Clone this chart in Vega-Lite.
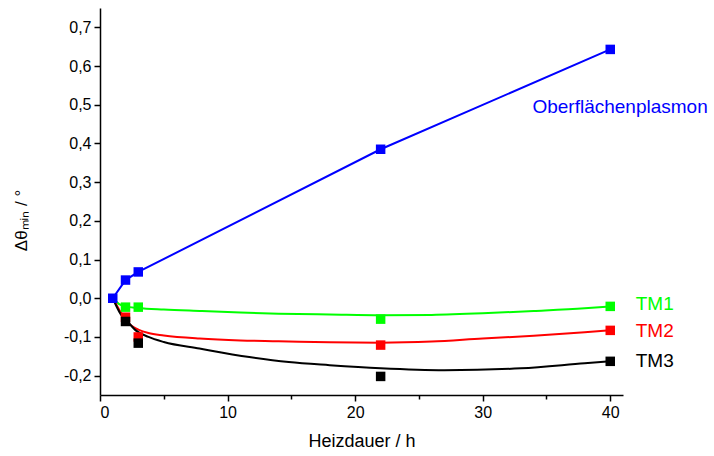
{
  "$schema": "https://vega.github.io/schema/vega-lite/v6.json",
  "autosize": {"type": "none"},
  "padding": {"left": 100, "top": 8, "right": 91, "bottom": 61},
  "width": 523,
  "height": 387,
  "background": "white",
  "config": {
    "view": {"stroke": null},
    "font": "Liberation Sans",
    "axis": {"grid": false, "domainColor": "black", "tickColor": "black", "labelColor": "black", "titleColor": "black", "labelFont": "Liberation Sans", "titleFont": "Liberation Sans", "domainWidth": 1.5, "tickWidth": 1.5}
  },
  "datasets": {
    "plasmon": [
      {"series": "Oberflächenplasmon", "h": 1, "d": 0},
      {"series": "Oberflächenplasmon", "h": 2, "d": 0.047},
      {"series": "Oberflächenplasmon", "h": 3, "d": 0.068},
      {"series": "Oberflächenplasmon", "h": 22, "d": 0.385},
      {"series": "Oberflächenplasmon", "h": 40, "d": 0.643}
    ],
    "curves": [
      {"series": "TM1", "h": 1, "d": 0},
      {"series": "TM1", "h": 1.5, "d": -0.015},
      {"series": "TM1", "h": 2, "d": -0.021},
      {"series": "TM1", "h": 3, "d": -0.025},
      {"series": "TM1", "h": 5, "d": -0.029},
      {"series": "TM1", "h": 8, "d": -0.033},
      {"series": "TM1", "h": 11, "d": -0.037},
      {"series": "TM1", "h": 14, "d": -0.040},
      {"series": "TM1", "h": 18, "d": -0.042},
      {"series": "TM1", "h": 22, "d": -0.044},
      {"series": "TM1", "h": 26, "d": -0.043},
      {"series": "TM1", "h": 30, "d": -0.039},
      {"series": "TM1", "h": 34, "d": -0.033},
      {"series": "TM1", "h": 38, "d": -0.026},
      {"series": "TM1", "h": 40, "d": -0.021},
      {"series": "TM2", "h": 1, "d": 0},
      {"series": "TM2", "h": 1.25, "d": -0.014},
      {"series": "TM2", "h": 1.6, "d": -0.035},
      {"series": "TM2", "h": 2, "d": -0.053},
      {"series": "TM2", "h": 2.5, "d": -0.072},
      {"series": "TM2", "h": 3, "d": -0.081},
      {"series": "TM2", "h": 3.8, "d": -0.090},
      {"series": "TM2", "h": 5, "d": -0.096},
      {"series": "TM2", "h": 7.8, "d": -0.104},
      {"series": "TM2", "h": 11, "d": -0.109},
      {"series": "TM2", "h": 14, "d": -0.111},
      {"series": "TM2", "h": 18, "d": -0.114},
      {"series": "TM2", "h": 22, "d": -0.115},
      {"series": "TM2", "h": 26, "d": -0.112},
      {"series": "TM2", "h": 30, "d": -0.104},
      {"series": "TM2", "h": 34, "d": -0.097},
      {"series": "TM2", "h": 38, "d": -0.088},
      {"series": "TM2", "h": 40, "d": -0.083},
      {"series": "TM3", "h": 1, "d": 0},
      {"series": "TM3", "h": 1.6, "d": -0.040},
      {"series": "TM3", "h": 2, "d": -0.058},
      {"series": "TM3", "h": 2.3, "d": -0.066},
      {"series": "TM3", "h": 2.8, "d": -0.083},
      {"series": "TM3", "h": 3.8, "d": -0.100},
      {"series": "TM3", "h": 5, "d": -0.113},
      {"series": "TM3", "h": 7.8, "d": -0.130},
      {"series": "TM3", "h": 11.7, "d": -0.152},
      {"series": "TM3", "h": 14.8, "d": -0.165},
      {"series": "TM3", "h": 18, "d": -0.173},
      {"series": "TM3", "h": 22, "d": -0.181},
      {"series": "TM3", "h": 27, "d": -0.186},
      {"series": "TM3", "h": 33, "d": -0.181},
      {"series": "TM3", "h": 38, "d": -0.168},
      {"series": "TM3", "h": 40, "d": -0.163}
    ],
    "points": [
      {"series": "TM1", "h": 2, "d": -0.023},
      {"series": "TM1", "h": 3, "d": -0.023},
      {"series": "TM1", "h": 22, "d": -0.054},
      {"series": "TM1", "h": 40, "d": -0.021},
      {"series": "TM2", "h": 2, "d": -0.049},
      {"series": "TM2", "h": 3, "d": -0.100},
      {"series": "TM2", "h": 22, "d": -0.121},
      {"series": "TM2", "h": 40, "d": -0.083},
      {"series": "TM3", "h": 2, "d": -0.060},
      {"series": "TM3", "h": 3, "d": -0.116},
      {"series": "TM3", "h": 22, "d": -0.202},
      {"series": "TM3", "h": 40, "d": -0.163},
      {"series": "Oberflächenplasmon", "h": 1, "d": 0},
      {"series": "Oberflächenplasmon", "h": 2, "d": 0.047},
      {"series": "Oberflächenplasmon", "h": 3, "d": 0.068},
      {"series": "Oberflächenplasmon", "h": 22, "d": 0.385},
      {"series": "Oberflächenplasmon", "h": 40, "d": 0.643}
    ],
    "labels": [
      {"series": "Oberflächenplasmon", "h": 33.9, "d": 0.495},
      {"series": "TM1", "h": 42.0, "d": -0.016},
      {"series": "TM2", "h": 42.0, "d": -0.085},
      {"series": "TM3", "h": 42.0, "d": -0.163}
    ]
  },
  "layer": [
    {
      "data": {"name": "curves"},
      "mark": {"type": "line", "interpolate": "monotone", "strokeWidth": 2},
      "encoding": {
        "x": {
          "field": "h", "type": "quantitative",
          "scale": {"domain": [0, 41], "nice": false, "zero": false},
          "axis": {
            "title": "Heizdauer / h",
            "titleFontSize": 18, "titleFontWeight": "normal", "titlePadding": 12,
            "values": [0, 5, 10, 15, 20, 25, 30, 35, 40],
            "labelExpr": "datum.value % 10 == 0 ? datum.label : ''",
            "labelFontSize": 16, "labelPadding": 3,
            "tickSize": {"condition": {"test": "datum.value % 10 == 0", "value": 6}, "value": 4}
          }
        },
        "y": {
          "field": "d", "type": "quantitative",
          "scale": {"domain": [-0.25, 0.75], "nice": false, "zero": false},
          "axis": {
            "title": "Δθₘᵢₙ / °",
            "titleFontSize": 17, "titleFontWeight": "normal",
            "titleX": -79, "titleY": 212, "titleAngle": -90, "titleAlign": "center", "titleBaseline": "middle",
            "values": [-0.2, -0.15, -0.1, -0.05, 0, 0.05, 0.1, 0.15, 0.2, 0.25, 0.3, 0.35, 0.4, 0.45, 0.5, 0.55, 0.6, 0.65, 0.7, 0.75],
            "labelExpr": "abs(datum.value*10 - round(datum.value*10)) < 0.001 ? replace(replace(format(datum.value, '.1f'), '.', ','), '\u2212', '-') : ''",
            "labelFontSize": 16, "labelPadding": 3,
            "tickSize": {"condition": {"test": "abs(datum.value*10 - round(datum.value*10)) < 0.001", "value": 6}, "value": 4}
          }
        },
        "color": {
          "field": "series", "type": "nominal",
          "scale": {"domain": ["Oberflächenplasmon", "TM1", "TM2", "TM3"], "range": ["#0000ff", "#00ff00", "#ff0000", "#000000"]},
          "legend": null
        },
        "detail": {"field": "series"}
      }
    },
    {
      "data": {"name": "plasmon"},
      "mark": {"type": "line", "interpolate": "linear", "strokeWidth": 2},
      "encoding": {
        "x": {"field": "h", "type": "quantitative"},
        "y": {"field": "d", "type": "quantitative"},
        "color": {"field": "series", "type": "nominal", "legend": null}
      }
    },
    {
      "data": {"name": "points"},
      "mark": {"type": "point", "shape": "square", "filled": true, "size": 90, "opacity": 1},
      "encoding": {
        "x": {"field": "h", "type": "quantitative"},
        "y": {"field": "d", "type": "quantitative"},
        "color": {"field": "series", "type": "nominal", "legend": null}
      }
    },
    {
      "data": {"name": "labels"},
      "mark": {"type": "text", "align": "left", "baseline": "middle", "fontSize": 19, "font": "Liberation Sans"},
      "encoding": {
        "x": {"field": "h", "type": "quantitative"},
        "y": {"field": "d", "type": "quantitative"},
        "color": {"field": "series", "type": "nominal", "legend": null},
        "text": {"field": "series"}
      }
    }
  ]
}
